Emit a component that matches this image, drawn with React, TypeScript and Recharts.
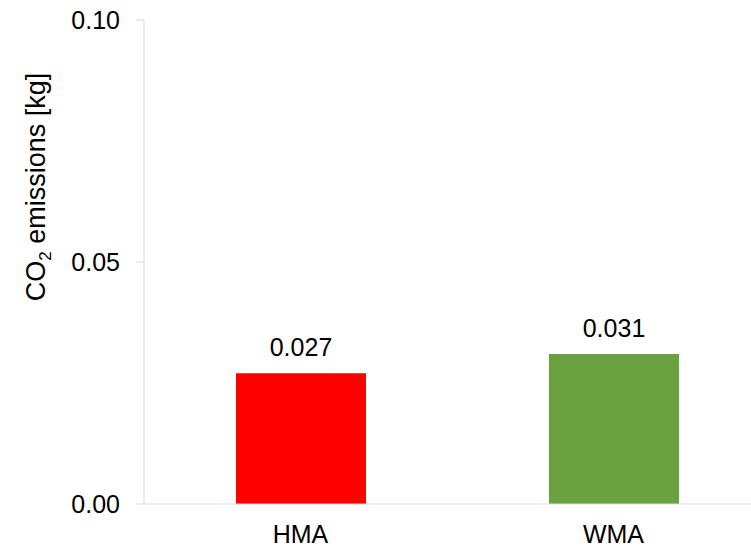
import { BarChart, Bar, XAxis, YAxis, LabelList, Cell } from "recharts";

const CATEGORIES = ["HMA", "WMA"];
const EMISSIONS = [0.027, 0.031];
const BAR_COLORS = ["#ff0000", "#6aa241"];
const Y_TICKS = [0, 0.05, 0.1];

const data = CATEGORIES.map((name, i) => ({ name, value: EMISSIONS[i] }));

const FONT = "'Liberation Sans', Arial, sans-serif";

function YLabel() {
  const cx = 45;
  const cy = 187;
  return (
    <text
      x={cx}
      y={cy}
      transform={`rotate(-90, ${cx}, ${cy})`}
      textAnchor="middle"
      fontSize={27}
      fontFamily={FONT}
      fill="#000"
    >
      CO
      <tspan fontSize={17} dy={6}>
        2
      </tspan>
      <tspan dy={-6}> emissions [kg]</tspan>
    </text>
  );
}

export default function App() {
  return (
    <div
      style={{
        position: "fixed",
        top: 0,
        left: 0,
        width: 751,
        height: 548,
        overflow: "hidden",
        background: "#fff",
      }}
    >
      <BarChart
        width={770}
        height={548}
        data={data}
        margin={{ top: 20, right: 0, bottom: 0, left: 0 }}
      >
        <XAxis
          dataKey="name"
          height={44}
          stroke="#d9d9d9"
          tickLine={false}
          tickSize={0}
          tickMargin={21}
          tick={{ fill: "#000", fontSize: 25, fontFamily: FONT }}
        />
        <YAxis
          width={144}
          domain={[0, 0.1]}
          ticks={Y_TICKS}
          stroke="#d9d9d9"
          tickSize={8}
          tickMargin={16}
          tickFormatter={(v: number) => v.toFixed(2)}
          tick={{ fill: "#000", fontSize: 25, fontFamily: FONT }}
          label={{ content: () => <YLabel /> }}
        />
        <Bar dataKey="value" barSize={130} isAnimationActive={false}>
          {data.map((d, i) => (
            <Cell key={d.name} fill={BAR_COLORS[i]} />
          ))}
          <LabelList
            dataKey="value"
            position="top"
            offset={17}
            formatter={(v: any) => Number(v).toFixed(3)}
            style={{ fill: "#000", fontSize: 25, fontFamily: FONT }}
          />
        </Bar>
      </BarChart>
    </div>
  );
}
